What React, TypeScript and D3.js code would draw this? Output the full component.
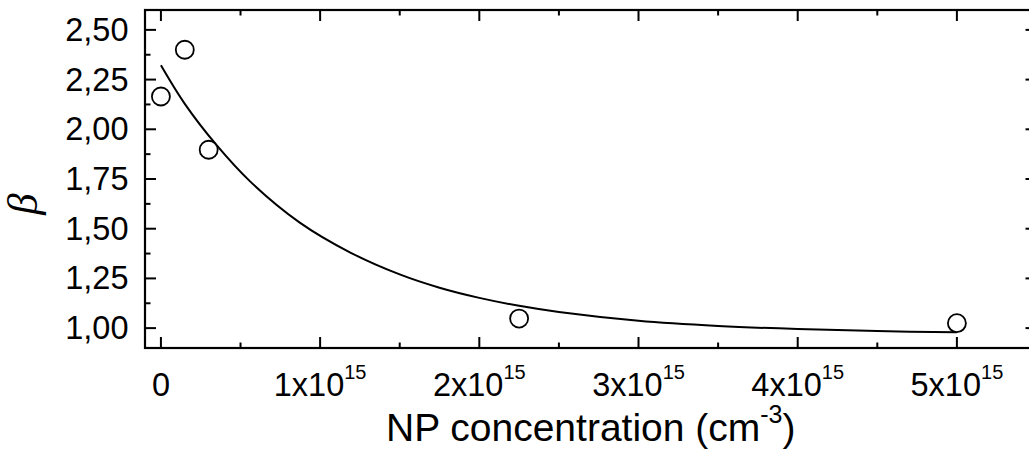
import React from "react";
import * as d3 from "d3";

// Measured data (x in units of 1e15 cm^-3)
const pointX = [0, 0.15, 0.3, 2.25, 5.0];
const pointY = [2.165, 2.4, 1.897, 1.048, 1.025];

// Fit curve
const fitX = [0, 0.15, 0.35, 0.56, 0.87, 1.19, 1.5, 1.75, 2.0, 2.25, 2.5, 3.0, 3.5, 4.0, 4.5, 5.0];
const fitY = [2.322, 2.128, 1.92, 1.738, 1.532, 1.38, 1.27, 1.203, 1.152, 1.112, 1.081, 1.037, 1.011, 0.995, 0.985, 0.979];

const xMajorTicks = [0, 1, 2, 3, 4, 5];
const xTickMain = ["0", "1x10", "2x10", "3x10", "4x10", "5x10"];
const xTickSup = ["", "15", "15", "15", "15", "15"];
const xMinorTicks = [0.5, 1.5, 2.5, 3.5, 4.5];

const yMajorTicks = [1.0, 1.25, 1.5, 1.75, 2.0, 2.25, 2.5];
const yTickLabels = ["1,00", "1,25", "1,50", "1,75", "2,00", "2,25", "2,50"];
const yMinorTicks = [1.125, 1.375, 1.625, 1.875, 2.125, 2.375];

const xTitle = "NP concentration (cm";
const xTitleSup = "-3";
const xTitleEnd = ")";
const yTitle = "β";

const W = 1029;
const H = 451;
const left = 145;
const right = 1036.5;
const top = 10;
const bottom = 348;

export default function App() {
  const x = d3.scaleLinear().domain([-0.1, 5.5]).range([left, right]);
  const y = d3.scaleLinear().domain([0.9, 2.6]).range([bottom, top]);

  const fitData = fitX.map((v, i) => [v, fitY[i]] as [number, number]);
  const line = d3
    .line<[number, number]>()
    .x((d) => x(d[0]))
    .y((d) => y(d[1]))
    .curve(d3.curveCatmullRom.alpha(0.5));

  const font = "'Liberation Sans', Arial, Helvetica, sans-serif";
  const major = 11;
  const minor = 5.5;

  return (
    <svg
      width={W}
      height={H}
      style={{ position: "absolute", left: 0, top: 0, background: "#fff" }}
    >
      <rect x={0} y={0} width={W} height={H} fill="#fff" />
      {/* frame */}
      <rect
        x={left}
        y={top}
        width={right - left}
        height={bottom - top}
        fill="none"
        stroke="#000"
        strokeWidth={2.2}
      />
      {/* x ticks bottom & top */}
      {xMajorTicks.map((t) => (
        <g key={"xm" + t}>
          <line x1={x(t)} x2={x(t)} y1={bottom} y2={bottom - major} stroke="#000" strokeWidth={2} />
          <line x1={x(t)} x2={x(t)} y1={top} y2={top + major} stroke="#000" strokeWidth={2} />
        </g>
      ))}
      {xMinorTicks.map((t) => (
        <g key={"xn" + t}>
          <line x1={x(t)} x2={x(t)} y1={bottom} y2={bottom - minor} stroke="#000" strokeWidth={2} />
          <line x1={x(t)} x2={x(t)} y1={top} y2={top + minor} stroke="#000" strokeWidth={2} />
        </g>
      ))}
      {/* y ticks left & right */}
      {yMajorTicks.map((t) => (
        <g key={"ym" + t}>
          <line x1={left} x2={left + major} y1={y(t)} y2={y(t)} stroke="#000" strokeWidth={2} />
          <line x1={right} x2={right - major} y1={y(t)} y2={y(t)} stroke="#000" strokeWidth={2} />
        </g>
      ))}
      {yMinorTicks.map((t) => (
        <g key={"yn" + t}>
          <line x1={left} x2={left + minor} y1={y(t)} y2={y(t)} stroke="#000" strokeWidth={2} />
          <line x1={right} x2={right - minor} y1={y(t)} y2={y(t)} stroke="#000" strokeWidth={2} />
        </g>
      ))}
      {/* x tick labels */}
      {xMajorTicks.map((t, i) => (
        <text
          key={"xl" + t}
          x={x(t)}
          y={395.5}
          textAnchor="middle"
          fontFamily={font}
          fontSize={32.5}
          fill="#000"
        >
          {xTickMain[i]}
          {xTickSup[i] && (
            <tspan fontSize={20} dy={-17}>
              {xTickSup[i]}
            </tspan>
          )}
        </text>
      ))}
      {/* y tick labels */}
      {yMajorTicks.map((t, i) => (
        <text
          key={"yl" + t}
          x={128.5}
          y={y(t) + 11}
          textAnchor="end"
          fontFamily={font}
          fontSize={32.5}
          fill="#000"
        >
          {yTickLabels[i]}
        </text>
      ))}
      {/* fit curve */}
      <path d={line(fitData) || ""} fill="none" stroke="#000" strokeWidth={2} />
      {/* points */}
      {pointX.map((v, i) => (
        <circle
          key={"p" + i}
          cx={x(v)}
          cy={y(pointY[i])}
          r={9}
          fill="#fff"
          stroke="#000"
          strokeWidth={1.8}
        />
      ))}
      {/* x title */}
      <text
        x={(left + right) / 2}
        y={441}
        textAnchor="middle"
        fontFamily={font}
        fontSize={39}
        fill="#000"
      >
        {xTitle}
        <tspan fontSize={25} dy={-18}>
          {xTitleSup}
        </tspan>
        <tspan fontSize={39} dy={18}>
          {xTitleEnd}
        </tspan>
      </text>
      {/* y title */}
      <text
        transform={`translate(37, 204) rotate(-90)`}
        textAnchor="middle"
        fontFamily="'Liberation Serif', 'DejaVu Serif', serif"
        fontStyle="italic"
        fontSize={43}
        fill="#000"
      >
        {yTitle}
      </text>
    </svg>
  );
}
